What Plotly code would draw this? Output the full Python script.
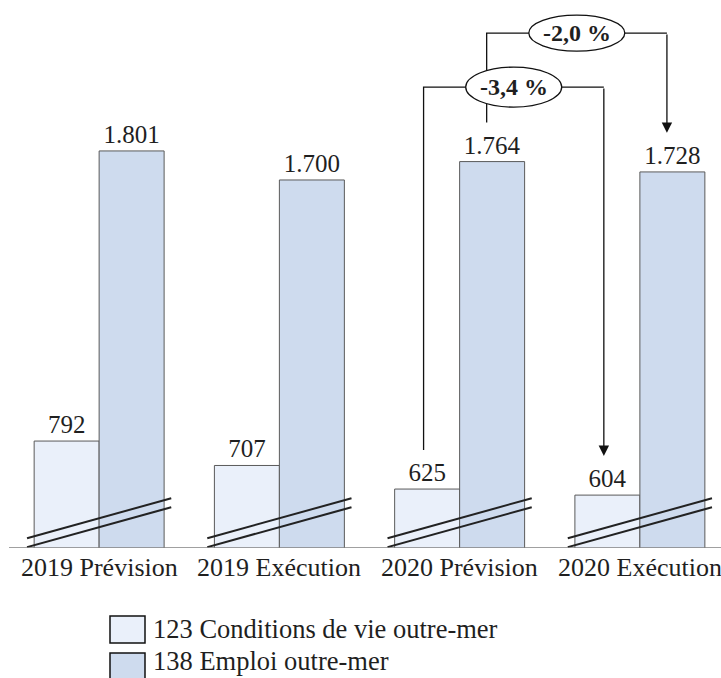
import plotly.graph_objects as go

# Budget lines (in M€), two programmes per period
categories = ["2019 Prévision", "2019 Exécution", "2020 Prévision", "2020 Exécution"]
prog_123 = [792, 707, 625, 604]
prog_138 = [1801, 1700, 1764, 1728]
series_names = ["123 Conditions de vie outre-mer", "138 Emploi outre-mer"]
variation_labels = ["-2,0 %", "-3,4 %"]

LIGHT = "#EAF0FA"
DARK = "#CEDBEE"
EDGE = "#5a5a5a"
INK = "#1f1f1f"
FONT = "Liberation Serif"

Y_MIN, Y_MAX = 420, 2326          # truncated value axis (broken at the bottom)


def fmt(v):
    return f"{v:,}".replace(",", ".")


x_idx = list(range(len(categories)))

fig = go.Figure()
for vals, col in ((prog_123, LIGHT), (prog_138, DARK)):
    fig.add_trace(go.Bar(
        x=x_idx, y=vals,
        marker=dict(color=col, line=dict(color=EDGE, width=1)),
        text=[fmt(v) for v in vals], textposition="outside",
        textfont=dict(family=FONT, size=25, color=INK),
        cliponaxis=False, showlegend=False,
    ))

shapes = []
annotations = []

# axis break marks: two parallel slanted strokes across each group
for i in x_idx:
    for y0, y1 in ((454, 593), (423, 562)):
        shapes.append(dict(type="line", xref="x", yref="y",
                           x0=i - 0.4, x1=i + 0.4, y0=y0, y1=y1,
                           line=dict(color="#222", width=2)))

# baseline
shapes.append(dict(type="line", xref="paper", yref="y", x0=0, x1=1,
                   y0=Y_MIN, y1=Y_MIN, line=dict(color="#808080", width=1.5)))

# variation brackets: (series, from index, to index, x offset, top level, label, half-height px)
GAP = 136
brackets = [
    (prog_138, 2, 3, 0.15, 2211, variation_labels[0], 18),
    (prog_123, 2, 3, -0.2, 2023, variation_labels[1], 20),
]
px_x = 712 / 3.95
px_y = 548 / (Y_MAX - Y_MIN)
ellipses = []
for vals, a, b, off, top, label, ry in brackets:
    xa, xb = a + off, b + off
    ya, yb = vals[a] + GAP, vals[b] + GAP
    shapes.append(dict(type="path", xref="x", yref="y",
                       path=f"M {xa},{ya} L {xa},{top} L {xb},{top}",
                       line=dict(color="#111", width=1.3)))
    annotations.append(dict(x=xb, y=yb, ax=xb, ay=top, xref="x", yref="y",
                            axref="x", ayref="y", text="", showarrow=True,
                            arrowhead=2, arrowsize=1.6, arrowwidth=1.3,
                            arrowcolor="#111", standoff=0))
    xm = (xa + xb) / 2
    ellipses.append(dict(type="circle", xref="x", yref="y",
                         x0=xm - 48 / px_x, x1=xm + 48 / px_x,
                         y0=top - ry / px_y, y1=top + ry / px_y,
                         fillcolor="white", line=dict(color="#111", width=1.3)))
    annotations.append(dict(x=xm, y=top, xref="x", yref="y", text=f"<b>{label}</b>",
                            showarrow=False,
                            font=dict(family=FONT, size=24, color=INK)))
shapes.extend(ellipses)

PLOT_H = 548


def py(p):
    return (PLOT_H - p) / PLOT_H


def pxp(p):
    return (p - 9) / 712


# category labels under each group
for i, name in zip(x_idx, categories):
    annotations.append(dict(x=i, y=py(567), xref="x", yref="paper", text=name,
                            showarrow=False, xanchor="center", yanchor="middle",
                            font=dict(family=FONT, size=26, color=INK)))

# legend drawn below the chart
for (top, bot), ty, name, col in zip(((616, 643), (653, 681)), (629, 661),
                                     series_names, (LIGHT, DARK)):
    shapes.append(dict(type="rect", xref="paper", yref="paper",
                       x0=pxp(110), x1=pxp(145), y0=py(bot), y1=py(top),
                       fillcolor=col, line=dict(color="#111", width=1.5)))
    annotations.append(dict(x=pxp(151), y=py(ty), xref="paper", yref="paper",
                            text=name, showarrow=False, xanchor="left", yanchor="middle",
                            font=dict(family=FONT, size=26.5, color=INK)))

fig.update_layout(
    width=721, height=678,
    margin=dict(l=9, r=0, t=0, b=130),
    paper_bgcolor="white", plot_bgcolor="white",
    barmode="group", bargap=0.279, bargroupgap=0,
    shapes=shapes, annotations=annotations,
    xaxis=dict(range=[-0.5, 3.45], showticklabels=False, showgrid=False,
               zeroline=False, showline=False, ticks=""),
    yaxis=dict(range=[Y_MIN, Y_MAX], visible=False, showgrid=False),
)

fig.write_html("out.html")
